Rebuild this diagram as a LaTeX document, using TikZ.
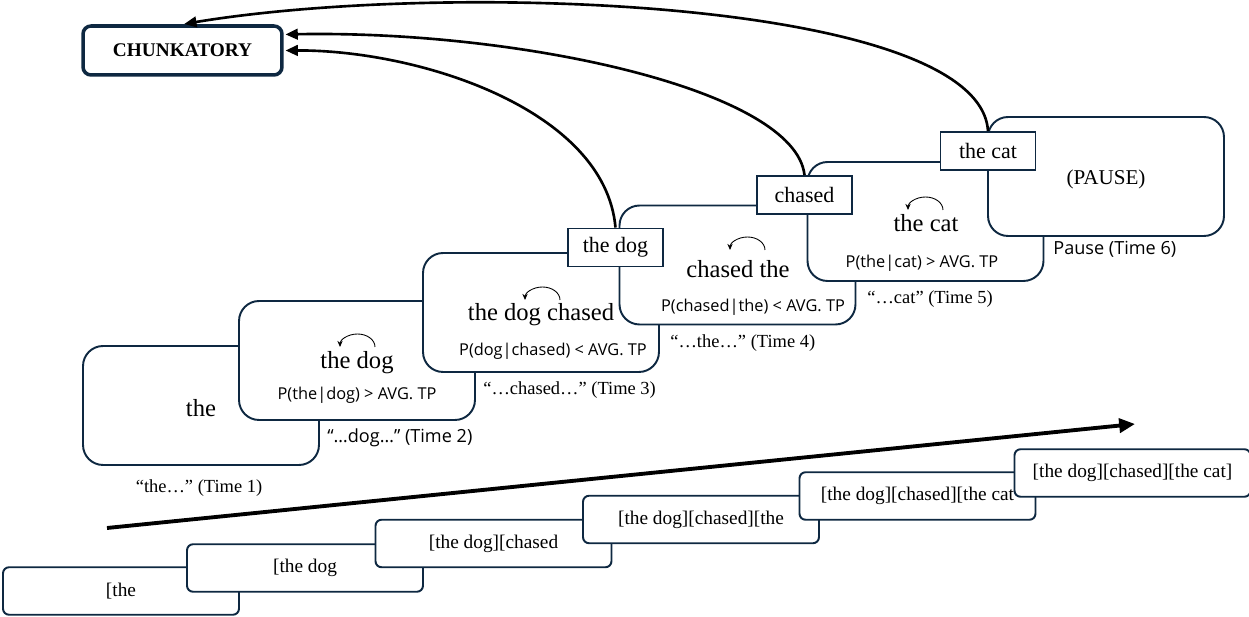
\documentclass[tikz,border=0pt]{standalone}
\usepackage{fontspec}
\setmainfont{Liberation Serif}
\setsansfont{Open Sans}
\usetikzlibrary{arrows.meta}
\definecolor{inkblue}{HTML}{0E2841}

\begin{document}
\begin{tikzpicture}[x=0.02cm,y=-0.02cm]
    \tikzstyle{frame}=[draw=inkblue,line width=1.1pt,fill=white,rounded corners=0.4cm,minimum width=4.72cm,minimum height=2.38cm,inner sep=0pt]
    \tikzstyle{word}=[draw=inkblue,line width=1.1pt,fill=white,minimum width=1.9cm,minimum height=0.76cm,inner sep=0pt,font=\fontsize{12.5}{14}\selectfont]
    \tikzstyle{chunk}=[draw=inkblue,line width=1.1pt,fill=white,rounded corners=0.12cm,minimum width=4.72cm,minimum height=0.95cm,inner sep=0pt,font=\fontsize{11}{13}\selectfont]
    \tikzstyle{phrase}=[font=\fontsize{14}{16}\selectfont,inner sep=0pt]
    \tikzstyle{prob}=[font=\sffamily\fontsize{9.3}{11}\selectfont,inner sep=0pt]
    \tikzstyle{stamp}=[font=\fontsize{10.5}{12}\selectfont,inner sep=0pt,anchor=west]
    \tikzstyle{sans stamp}=[stamp,font=\sffamily\fontsize{10.3}{12}\selectfont]
    \tikzstyle{tp arc}=[-{Stealth[length=3.5pt,width=3pt]},line width=0.5pt]
    \tikzstyle{recall}=[-{Triangle[length=7pt,width=6pt]},line width=1.5pt,shorten >=1pt]

    \useasboundingbox (0,0) rectangle (1249,617);

    % The chunk store
    \node[draw=inkblue,line width=2pt,rounded corners=0.16cm,minimum width=3.98cm,minimum height=0.98cm,
          font=\bfseries\fontsize{11}{13}\selectfont] (chunky) at (182.5,50.5) {CHUNKATORY};

    % Draw the time frames, later ones on top
    \foreach \name / \x / \y in {1/201/405.5, 2/357/360.5, 3/541/312.5, 4/737.5/265, 5/925.5/221.5, 6/1106/176.5}
        \node[frame] (F-\name) at (\x,\y) {};

    % What is heard in each frame
    \node[phrase] (txt-1) at (201,408) {the};
    \node[phrase] (txt-2) at (357,363) {the dog};
    \node[phrase] (txt-3) at (541,315) {the dog chased};
    \node[phrase] (txt-4) at (738,269) {chased the};
    \node[phrase] (txt-5) at (926,223) {the cat};
    \node[font=\fontsize{12}{14}\selectfont] (txt-6) at (1106,179) {(PAUSE)};

    \foreach \x / \y in {375/347, 560/300, 765/250, 943/210}
        \draw[tp arc] (\x,\y) arc[start angle=0,end angle=-180,x radius=17.5,y radius=13];

    \node[prob] (tp-2) at (357,395) {P(the|dog) > AVG. TP};
    \node[prob] (tp-3) at (553,351) {P(dog|chased) < AVG. TP};
    \node[prob] (tp-4) at (753,307) {P(chased|the) < AVG. TP};
    \node[prob] (tp-5) at (922,263) {P(the|cat) > AVG. TP};

    % Time stamps
    \node[stamp,anchor=center] (time-1) at (199,488) {“the…” (Time 1)};
    \node[sans stamp] (time-2) at (327,438) {“…dog…” (Time 2)};
    \node[stamp] (time-3) at (483,390) {“…chased…” (Time 3)};
    \node[stamp] (time-4) at (670,343) {“…the…” (Time 4)};
    \node[stamp] (time-5) at (867,299) {“…cat” (Time 5)};
    \node[sans stamp] (time-6) at (1053,249) {Pause (Time 6)};

    % Chunks sent up
    \node[word] (thedog) at (615.5,247.5) {the dog};
    \node[word] (chased) at (804.5,195) {chased};
    \node[word] (thecat) at (988,151) {the cat};

    \draw[recall] (thecat.north) .. controls (980,0) and (450,-20) .. (chunky.north);
    \draw[recall] (chased.north) .. controls (795,90) and (520,30) .. (chunky.9);
    \draw[recall] (thedog.north) .. controls (605,110) and (420,50) .. (chunky.east);

    % Time axis
    \coordinate (t-start) at (107,528);
    \coordinate (t-stop) at (1135,424);
    \draw[-{Triangle[length=9pt,width=8pt]},line width=2.2pt] (t-start) -- (t-stop);

    % Growing chunk sequence
    \foreach \name / \x / \y / \seq in {1/121/591/{[the}, 2/305/568/{[the dog}, 3/493.5/543.5/{[the dog][chased},
                                        4/701/519.5/{[the dog][chased][the}, 5/917.5/496/{[the dog][chased][the cat},
                                        6/1132.5/473/{[the dog][chased][the cat]}}
        \node[chunk] (C-\name) at (\x,\y) {\seq};
\end{tikzpicture}
\end{document}
